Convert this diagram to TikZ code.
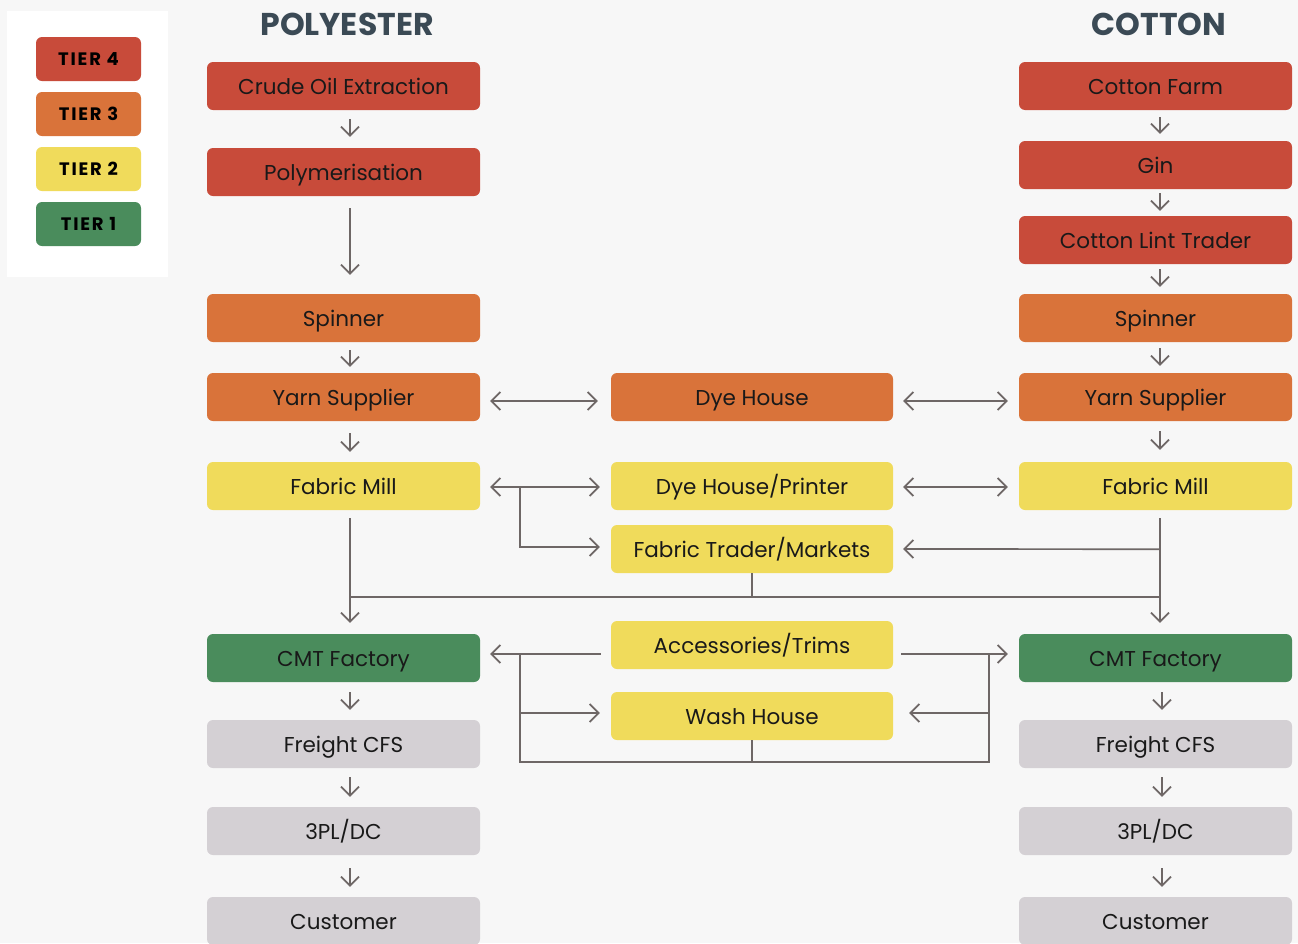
\documentclass[tikz,border=0pt]{standalone}
\usepackage{fontspec}
\setmainfont{Poppins}
\newfontfamily\legendfont[LetterSpace=10]{Poppins}
\usetikzlibrary{arrows.meta,calc}

\definecolor{tierfour}{HTML}{C84B3A}
\definecolor{tierthree}{HTML}{D9733A}
\definecolor{tiertwo}{HTML}{F0DB5B}
\definecolor{tierone}{HTML}{4A8C5C}
\definecolor{logistic}{HTML}{D4D0D4}
\definecolor{linegray}{HTML}{6E6766}
\definecolor{headgray}{HTML}{3B4A55}

\tikzset{
  stage/.style={rounded corners=6pt, minimum width=273pt, minimum height=48pt,
    inner sep=0pt, text height=17pt, text depth=0pt, text=black!90,
    font=\fontsize{21.5}{24}\selectfont},
  mid/.style={stage, minimum width=282pt},
  t4/.style={fill=tierfour}, t3/.style={fill=tierthree},
  t2/.style={fill=tiertwo}, t1/.style={fill=tierone}, tl/.style={fill=logistic},
  legendbox/.style={rounded corners=6pt, minimum width=105pt, minimum height=44pt,
    inner sep=0pt, text height=13pt, text depth=0pt,
    font=\legendfont\bfseries\fontsize{18}{20}\selectfont},
  heading/.style={text=headgray, font=\bfseries\fontsize{31.5}{34}\selectfont},
  flow/.style={draw=linegray, line width=1.7pt, -{Straight Barb[length=9pt,width=18pt]}},
  both/.style={flow, {Straight Barb[length=9pt,width=18pt]}-{Straight Barb[length=9pt,width=18pt]}},
  link/.style={draw=linegray, line width=1.7pt}
}

\begin{document}
\begin{tikzpicture}[x=1pt, y=-1pt]
\fill[white!97!black] (0,0) rectangle (1298,943);
\useasboundingbox (0,0) rectangle (1298,943);

% legend
\fill[white] (7,11) rectangle (168,277);
\node[legendbox, t4] (leg4) at (88.5,59) {TIER 4};
\node[legendbox, t3] (leg3) at (88.5,114) {TIER 3};
\node[legendbox, t2] (leg2) at (88.5,169) {TIER 2};
\node[legendbox, t1] (leg1) at (88.5,224) {TIER 1};

% headings
\node[heading] (polyhead) at (347,24) {POLYESTER};
\node[heading] (cothead) at (1159,24) {COTTON};

% polyester column
\node[stage, t4] (crude) at (343.5,86) {Crude Oil Extraction};
\node[stage, t4] (poly) at (343.5,172) {Polymerisation};
\node[stage, t3] (spinL) at (343.5,318) {Spinner};
\node[stage, t3] (yarnL) at (343.5,397) {Yarn Supplier};
\node[stage, t2] (fabL) at (343.5,486) {Fabric Mill};
\node[stage, t1] (cmtL) at (343.5,658) {CMT Factory};
\node[stage, tl] (cfsL) at (343.5,744) {Freight CFS};
\node[stage, tl] (dcL) at (343.5,831) {3PL/DC};
\node[stage, tl] (custL) at (343.5,921) {Customer};

% cotton column
\node[stage, t4] (farm) at (1155.5,86) {Cotton Farm};
\node[stage, t4] (gin) at (1155.5,165) {Gin};
\node[stage, t4] (lint) at (1155.5,240) {Cotton Lint Trader};
\node[stage, t3] (spinR) at (1155.5,318) {Spinner};
\node[stage, t3] (yarnR) at (1155.5,397) {Yarn Supplier};
\node[stage, t2] (fabR) at (1155.5,486) {Fabric Mill};
\node[stage, t1] (cmtR) at (1155.5,658) {CMT Factory};
\node[stage, tl] (cfsR) at (1155.5,744) {Freight CFS};
\node[stage, tl] (dcR) at (1155.5,831) {3PL/DC};
\node[stage, tl] (custR) at (1155.5,921) {Customer};

% shared suppliers
\node[mid, t3] (dye) at (752,397) {Dye House};
\node[mid, t2] (printer) at (752,486) {Dye House/Printer};
\node[mid, t2] (trader) at (752,549) {Fabric Trader/Markets};
\node[mid, t2] (trims) at (752,645) {Accessories/Trims};
\node[mid, t2] (wash) at (752,716) {Wash House};

% polyester flow
\draw[flow] ($(crude.south)+(6.5,9)$) -- ($(poly.north)+(6.5,-11)$);
\draw[flow] ($(poly.south)+(6.5,12)$) -- ($(spinL.north)+(6.5,-19)$);
\draw[flow] ($(spinL.south)+(6.5,8)$) -- ($(yarnL.north)+(6.5,-6)$);
\draw[flow] ($(yarnL.south)+(6.5,12)$) -- ($(fabL.north)+(6.5,-10)$);
\draw[flow] ($(cmtL.south)+(6.5,10)$) -- ($(cfsL.north)+(6.5,-10)$);
\draw[flow] ($(cfsL.south)+(6.5,9)$) -- ($(dcL.north)+(6.5,-10)$);
\draw[flow] ($(dcL.south)+(6.5,13)$) -- ($(custL.north)+(6.5,-10)$);

% cotton flow
\draw[flow] ($(farm.south)+(4.5,7)$) -- ($(gin.north)+(4.5,-7)$);
\draw[flow] ($(gin.south)+(4.5,4)$) -- ($(lint.north)+(4.5,-5)$);
\draw[flow] ($(lint.south)+(4.5,5)$) -- ($(spinR.north)+(4.5,-7)$);
\draw[flow] ($(spinR.south)+(4.5,6)$) -- ($(yarnR.north)+(4.5,-7)$);
\draw[flow] ($(yarnR.south)+(4.5,10)$) -- ($(fabR.north)+(4.5,-12)$);
\draw[flow] ($(cmtR.south)+(6.5,10)$) -- ($(cfsR.north)+(6.5,-10)$);
\draw[flow] ($(cfsR.south)+(6.5,9)$) -- ($(dcR.north)+(6.5,-10)$);
\draw[flow] ($(dcR.south)+(6.5,13)$) -- ($(custR.north)+(6.5,-10)$);

% dye houses
\draw[both] ($(yarnL.east)+(10,4)$) -- ($(dye.west)+(-13,4)$);
\draw[both] ($(dye.east)+(10,4)$) -- ($(yarnR.west)+(-11,4)$);
\draw[both] ($(fabL.east)+(10,1)$) -- ($(printer.west)+(-11,1)$);
\draw[both] ($(printer.east)+(10,1)$) -- ($(fabR.west)+(-11,1)$);
\draw[flow] ($(fabL.east)+(40,1)$) |- ($(trader.west)+(-11,-2)$);

% fabric to cmt
\draw[flow] ($(fabL.south)+(6.5,8)$) -- ($(cmtL.north)+(6.5,-11)$);
\draw[flow] ($(fabR.south)+(4.5,8)$) -- ($(cmtR.north)+(4.5,-11)$);
\draw[flow] ($(fabR.south)+(4.5,39)$) -- ($(trader.east)+(10,0)$);
\draw[link] ($(fabL.south)+(6.5,87)$) -- ($(fabR.south)+(4.5,87)$);
\draw[link] (trader.south) -- ++(0,24);

% trims and wash
\draw[flow] ($(trims.west)+(-10,9)$) -- ($(cmtL.east)+(10,-4)$);
\draw[flow] ($(trims.east)+(8,9)$) -- ($(cmtR.west)+(-11,-4)$);
\draw[link] ($(cmtL.east)+(40,-4)$) -- ($(cmtL.east)+(40,104)$) -- ($(cmtR.west)+(-30,104)$) -- ($(cmtR.west)+(-30,-4)$);
\draw[flow] ($(cmtL.east)+(40,55)$) -- ($(wash.west)+(-11,-3)$);
\draw[flow] ($(cmtR.west)+(-30,55)$) -- ($(wash.east)+(16,-3)$);
\draw[link] (wash.south) -- ++(0,22);
\end{tikzpicture}
\end{document}
